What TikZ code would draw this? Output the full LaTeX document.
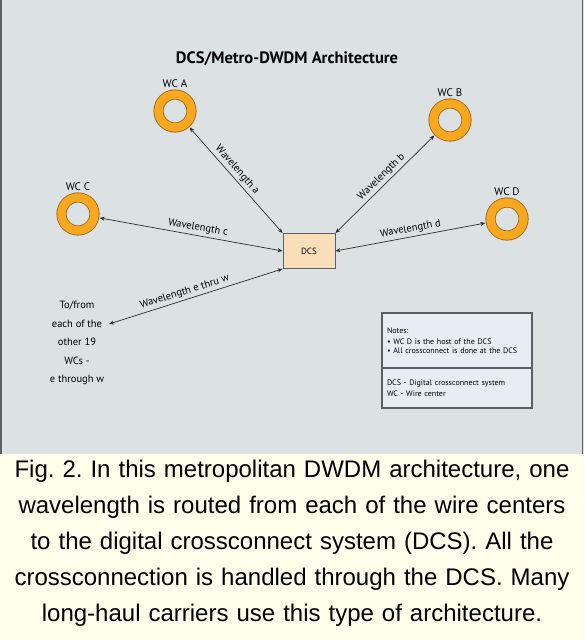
\documentclass[tikz,border=0pt]{standalone}
\usepackage{fontspec}
\setmainfont{Liberation Sans}
\newfontfamily\diagfont{PT Sans}
\usepackage{xcolor}
\usetikzlibrary{arrows.meta, positioning}
\definecolor{cPanel}{RGB}{220,226,228}
\definecolor{cCaption}{RGB}{254,254,234}
\definecolor{cRing}{RGB}{247,168,30}
\definecolor{cRingEdge}{RGB}{160,95,20}
\definecolor{cDcs}{RGB}{250,222,186}
\definecolor{cNote}{RGB}{232,237,243}
\definecolor{cLine}{RGB}{45,45,45}
\definecolor{cBorder}{RGB}{90,95,98}
\tikzset{
	wcring/.style  ={circle, minimum size=33pt, inner sep=0pt, outer sep=5.5pt, draw=cRingEdge, double=cRing, double distance=8.5pt, line width=0.8pt, fill=cPanel},
	wclbl/.style   ={font=\diagfont\fontsize{11}{12}\selectfont, inner sep=1.5pt, label distance=0pt},
	dcsbox/.style  ={rectangle, minimum width=52pt, minimum height=35pt, draw=cBorder, line width=0.9pt, fill=cDcs, font=\diagfont\fontsize{9}{10}\selectfont},
	wavearrow/.style={{Stealth[length=5pt,width=4pt]}-{Stealth[length=5pt,width=4pt]}, draw=cLine, line width=0.7pt},
	wavelbl/.style ={font=\diagfont\fontsize{10.5}{11}\selectfont, sloped, above, inner sep=2.5pt},
	notebox/.style ={rectangle, draw=cBorder, line width=1.1pt, fill=cNote, minimum width=150pt, text width=140pt, align=left, outer sep=0pt, font=\diagfont\fontsize{8}{12}\selectfont},
}

\begin{document}
\begin{tikzpicture}[x=1pt, y=-1pt, every node/.style={font=\diagfont}]
	\useasboundingbox (0,0) rectangle (584,640);
	% panel and caption background
	\fill[cPanel] (0,0) rectangle (584,454);
	\fill[cCaption] (0,454) rectangle (584,640);
	\draw[cBorder, line width=1.5pt] (1,0) -- (1,454); \draw[cBorder, line width=1.5pt] (582.5,0) -- (582.5,454);
	\node[font=\diagfont\bfseries\fontsize{16.5}{18}\selectfont] (title) at (287,59) {DCS/Metro-DWDM Architecture};
	% wire centers and the DCS
	\node[wcring, label={[wclbl]above:WC A}] (wcA) at (175,111) {};
	\node[wcring, label={[wclbl]above:WC B}] (wcB) at (450,120) {};
	\node[wcring, label={[wclbl]above:WC C}] (wcC) at (78,214) {};
	\node[wcring, label={[wclbl]above:WC D}] (wcD) at (507,219) {};
	\node[dcsbox] (dcs) at (309,251) {DCS};
	\node[align=center, font=\diagfont\fontsize{10.5}{18.5}\selectfont] (tofrom) at (77,343) {To/from\\each of the\\other 19\\WCs -\\e through w};
	\coordinate (efree) at (109,324);
	\draw[wavearrow] (wcA) -- node[wavelbl, pos=0.45] {Wavelength a} (dcs.north west);
	\draw[wavearrow] (wcB) -- node[wavelbl, pos=0.48] {Wavelength b} (dcs.north east);
	\draw[wavearrow] (wcC) -- node[wavelbl, pos=0.53] {Wavelength c} (dcs.west);
	\draw[wavearrow] (wcD) -- node[wavelbl, pos=0.49] {Wavelength d} (dcs.east);
	\draw[wavearrow] (dcs.south west) -- node[wavelbl, pos=0.55] {Wavelength e thru w} (efree);
	% notes
	\node[notebox, minimum height=55pt] (notetop) at (457,340.5) {Notes:\\[-1pt]\textbullet\ WC D is the host of the DCS\\[-3pt]\textbullet\ All crossconnect is done at the DCS};
	\node[notebox, minimum height=40pt, below=0pt of notetop] (notebot) {DCS - Digital crossconnect system\\[-1pt]WC - Wire center};
	% caption
	\node[text width=584pt, align=center, font=\frenchspacing\fontsize{24}{36}\selectfont] (caption) at (292,543) {Fig. 2. In this metropolitan DWDM architecture, one\\wavelength is routed from each of the wire centers\\to the digital crossconnect system (DCS). All the\\crossconnection is handled through the DCS. Many\\long-haul carriers use this type of architecture.};
\end{tikzpicture}
\end{document}
